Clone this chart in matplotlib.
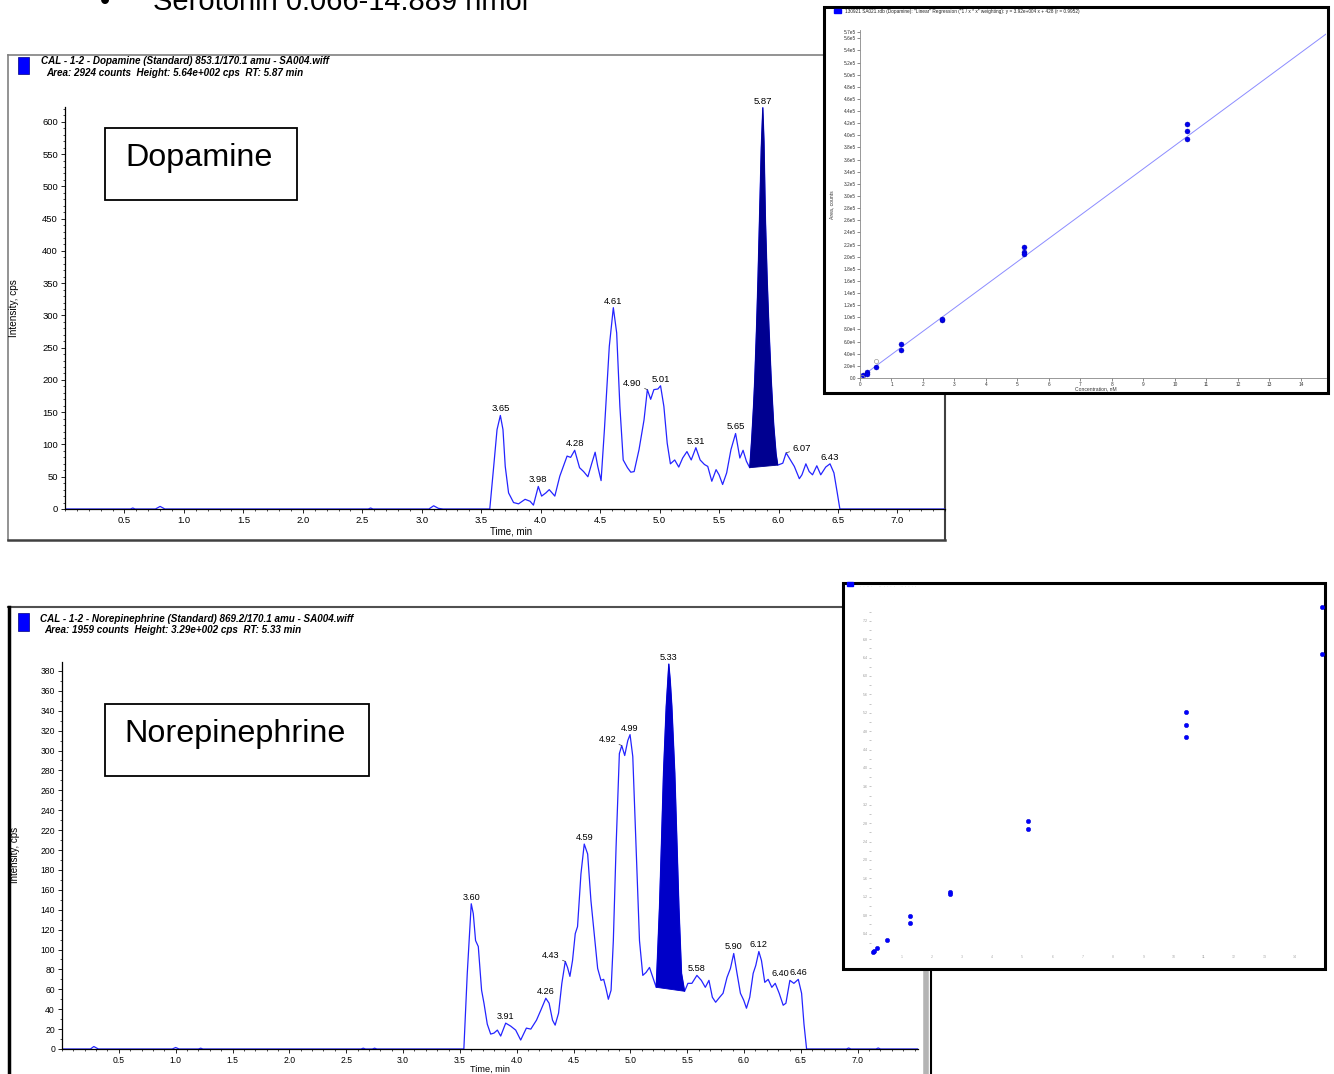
import numpy as np
import matplotlib
matplotlib.use('Agg')
import matplotlib.pyplot as plt
from matplotlib.patches import Rectangle
from matplotlib.ticker import MultipleLocator, FixedLocator, FormatStrFormatter

plt.rcParams['font.family'] = ['Liberation Sans', 'DejaVu Sans']

W, H = 1334, 1074

# ---------------- Dopamine chromatogram (time, min / intensity, cps)
da_base_t = [0.00, 0.55, 0.57, 0.59, 0.76, 0.80, 0.84, 2.55, 2.57, 2.59, 3.06, 3.10, 3.14, 3.18,
             3.572, 3.605, 3.633, 3.661, 3.683, 3.702, 3.730, 3.772, 3.814, 3.869,
             3.911, 3.939, 3.980, 4.008, 4.044, 4.072, 4.119, 4.161, 4.222, 4.252,
             4.286, 4.327, 4.361, 4.397, 4.430, 4.458, 4.480, 4.508, 4.536, 4.577,
             4.611, 4.639, 4.666, 4.694, 4.730, 4.758, 4.786, 4.827, 4.869, 4.897,
             4.925, 4.952, 4.986, 5.008, 5.036, 5.064, 5.091, 5.127, 5.161, 5.194,
             5.230, 5.266, 5.305, 5.341, 5.377, 5.405, 5.439, 5.475, 5.500, 5.530,
             5.564, 5.600, 5.639, 5.675, 5.702, 5.730]
da_base_i = [0, 0, 1.5, 0, 0, 4, 0, 0, 1.5, 0, 0, 5, 1, 0,
             0, 66, 123, 145, 123, 66, 25, 10, 8, 15,
             12, 6, 35, 20, 25, 30, 20, 51, 82, 80,
             91, 64, 58, 50, 71, 88, 66, 44, 123, 252,
             312, 273, 159, 76, 64, 57, 58, 92, 138, 185,
             170, 185, 186, 191, 159, 102, 70, 76, 65, 79,
             89, 76, 95, 76, 69, 66, 43, 61, 53, 38,
             56, 92, 117, 79, 91, 74]
da_peak_t = [5.758, 5.775, 5.79, 5.80, 5.815, 5.827, 5.84, 5.855, 5.868, 5.878, 5.89,
             5.905, 5.92, 5.939, 5.96, 5.98, 5.994]
da_peak_i = [64, 110, 160, 200, 280, 355, 450, 560, 622, 570, 450, 355, 280, 200, 130, 85, 68]
da_tail_t = [6.036, 6.064, 6.100, 6.133, 6.175, 6.197, 6.230, 6.258, 6.286, 6.322, 6.355,
             6.397, 6.433, 6.466, 6.494, 6.516, 7.40]
da_tail_i = [71, 87, 76, 66, 47, 53, 70, 58, 53, 67, 53, 65, 70, 56, 25, 0, 0]

da_labels = ['3.65', '3.98', '4.28', '4.61', '4.90', '5.01', '5.31', '5.65', '5.87', '6.07', '6.43']
da_label_t = [3.661, 3.980, 4.286, 4.611, 4.897, 5.008, 5.305, 5.639, 5.868, 6.064, 6.433]
da_label_i = [145, 35, 91, 312, 185, 191, 95, 117, 622, 87, 70]
da_label_kind = ['c', 'c', 'c', 'c', 'l', 'c', 'c', 'c', 'c', 'r', 'c']

# ---------------- Norepinephrine chromatogram
ne_base_t = [0.00, 0.25, 0.28, 0.32, 0.97, 1.00, 1.03, 1.20, 1.22, 1.24, 2.63, 2.65, 2.67,
             2.73, 2.75, 2.77, 3.535,
             3.565, 3.600, 3.618, 3.638, 3.662, 3.691, 3.712, 3.741, 3.771, 3.800,
             3.830, 3.859, 3.903, 3.947, 3.991, 4.035, 4.085, 4.124, 4.174, 4.212,
             4.256, 4.285, 4.315, 4.338, 4.368, 4.397, 4.427, 4.447, 4.468, 4.491,
             4.515, 4.535, 4.565, 4.594, 4.624, 4.653, 4.682, 4.712, 4.741, 4.765,
             4.785, 4.806, 4.830, 4.850, 4.874, 4.903, 4.924, 4.950, 4.977, 4.997,
             5.021, 5.050, 5.080, 5.109, 5.138, 5.168, 5.197]
ne_base_i = [0, 0, 2.5, 0, 0, 1.5, 0, 0, 0.8, 0, 0, 0.8, 0, 0, 0.8, 0, 0,
             76, 146, 136, 109, 103, 59, 46, 25, 15, 16,
             19, 13, 26, 23, 19, 9, 21, 20, 29, 39,
             51, 46, 29, 24, 36, 66, 88, 82, 73, 89,
             116, 123, 176, 206, 196, 149, 116, 81, 69, 70,
             61, 50, 59, 109, 203, 297, 305, 295, 310, 316,
             294, 203, 109, 74, 77, 82, 72]
ne_peak_t = [5.227, 5.241, 5.256, 5.274, 5.291, 5.315, 5.338, 5.351, 5.365, 5.378, 5.391,
             5.409, 5.427, 5.450, 5.477]
ne_peak_i = [62, 100, 143, 210, 277, 344, 387, 370, 344, 310, 277, 210, 143, 76, 58]
ne_tail_t = [5.506, 5.541, 5.585, 5.624, 5.659, 5.691, 5.721, 5.750, 5.785, 5.815,
             5.850, 5.880, 5.909, 5.938, 5.968, 5.997, 6.021, 6.050, 6.080, 6.103,
             6.130, 6.153, 6.182, 6.212, 6.244, 6.274, 6.309, 6.344, 6.368, 6.403,
             6.438, 6.477, 6.506, 6.527, 6.550, 6.90, 6.92, 6.94, 7.16, 7.18, 7.20, 7.53]
ne_tail_i = [66, 66, 74, 69, 62, 69, 52, 47, 52, 56,
             72, 81, 96, 76, 56, 49, 41, 52, 76, 84,
             98, 89, 67, 70, 62, 66, 56, 44, 46, 69,
             66, 70, 56, 25, 0, 0, 1, 0, 0, 1, 0, 0]

ne_labels = ['3.60', '3.91', '4.26', '4.43', '4.59', '4.92', '4.99', '5.33', '5.58', '5.90',
             '6.12', '6.40', '6.46']
ne_label_t = [3.600, 3.903, 4.256, 4.427, 4.594, 4.924, 4.997, 5.338, 5.585, 5.909, 6.130,
              6.403, 6.477]
ne_label_i = [146, 26, 51, 88, 206, 305, 316, 387, 74, 96, 98, 69, 70]
ne_label_kind = ['c', 'c', 'c', 'l', 'c', 'l', 'c', 'c', 'c', 'c', 'c', 'rr', 'c']

# ---------------- calibration curves (concentration, nM / area, counts)
da_conc = [0.104, 0.208, 0.208, 0.52, 1.3, 1.3, 2.6, 2.6, 5.2, 5.2, 5.2, 10.4, 10.4, 10.4]
da_area = [4.4e3, 9.9e3, 6.6e3, 1.82e4, 5.62e4, 4.57e4, 9.6e4, 9.8e4,
           2.16e5, 2.07e5, 2.04e5, 4.18e5, 4.07e5, 3.94e5]
da_excl_conc = [0.052, 0.52]
da_excl_area = [2.0e3, 2.75e4]
da_fit_x = [0.0, 14.8]
da_fit_y = [428, 5.67e5]

ne_conc = [0.052, 0.104, 0.208, 0.52, 1.3, 1.3, 2.6, 2.6, 5.2, 5.2, 10.4, 10.4, 10.4, 14.9, 14.9]
ne_area = [1e3, 3e3, 8e3, 2.6e4, 7.8e4, 6.4e4, 1.30e5, 1.26e5, 2.85e5, 2.67e5,
           5.22e5, 4.93e5, 4.68e5, 7.49e5, 6.48e5]

fig = plt.figure(figsize=(W / 100, H / 100), dpi=100)


def box_axes(x0, y0, x1, y1, z):
    ax = fig.add_axes([x0 / W, 1 - y1 / H, (x1 - x0) / W, (y1 - y0) / H], zorder=z)
    ax.set_xlim(x0, x1)
    ax.set_ylim(y1, y0)
    ax.axis('off')
    return ax


bg = box_axes(0, 0, W, H, 0)
bg.text(100, 10, '•', fontsize=21, va='baseline')
bg.text(153, 10, 'Serotonin 0.066-14.889 nmol', fontsize=21, va='baseline')

# panel frames
bg.plot([8, 945], [55, 55], color='#808080', lw=1.2)
bg.plot([8, 8], [55, 540], color='#808080', lw=1.2)
bg.plot([8, 945], [540, 540], color='#404040', lw=1.8)
bg.plot([945, 945], [55, 540], color='#404040', lw=1.5)
bg.plot([8, 930], [607, 607], color='#505050', lw=1.5)
bg.plot([9, 9], [607, 1074], color='black', lw=2.5)
bg.plot([926, 926], [607, 1074], color='#b4b4b4', lw=4)
bg.plot([931, 931], [607, 1074], color='black', lw=1.5)

hdr = dict(fontsize=7.1, fontweight='bold', fontstyle='italic', va='center')
bg.add_patch(Rectangle((18, 57), 11, 17, facecolor='#0000ff', edgecolor='#000080', lw=0.5))
bg.text(41, 61, 'CAL - 1-2 - Dopamine (Standard) 853.1/170.1 amu - SA004.wiff', **hdr)
bg.text(46, 73, 'Area: 2924 counts  Height: 5.64e+002 cps  RT: 5.87 min', **hdr)
bg.add_patch(Rectangle((18, 613), 11, 18, facecolor='#0000ff', edgecolor='#000080', lw=0.5))
bg.text(40, 619, 'CAL - 1-2 - Norepinephrine (Standard) 869.2/170.1 amu - SA004.wiff', **hdr)
bg.text(44, 630, 'Area: 1959 counts  Height: 3.29e+002 cps  RT: 5.33 min', **hdr)

bg.add_patch(Rectangle((105, 128), 192, 72, fill=False, ec='black', lw=1.3))
bg.text(199, 158, 'Dopamine', fontsize=23.3, ha='center', va='center')
bg.add_patch(Rectangle((105, 704), 264, 72, fill=False, ec='black', lw=1.3))
bg.text(235, 734, 'Norepinephrine', fontsize=23.3, ha='center', va='center')

bg.text(14, 308, 'Intensity, cps', rotation=90, fontsize=7.2, ha='center', va='center')
bg.text(511, 531, 'Time, min', fontsize=7, ha='center', va='center')
bg.text(15.5, 855, 'Intensity, cps', rotation=90, fontsize=7, ha='center', va='center')
bg.text(490, 1069, 'Time, min', fontsize=6.6, ha='center', va='center')


def chrom(x0, y0, x1, y1, xmax, ymax, ystep, fs):
    ax = fig.add_axes([x0 / W, 1 - y0 / H, (x1 - x0) / W, (y0 - y1) / H], zorder=1)
    ax.set_facecolor('none')
    ax.set_xlim(0, xmax)
    ax.set_ylim(0, ymax)
    for s in ['top', 'right']:
        ax.spines[s].set_visible(False)
    for s in ['left', 'bottom']:
        ax.spines[s].set_linewidth(0.9)
    ax.xaxis.set_major_locator(FixedLocator(np.arange(0.5, 7.01, 0.5)))
    ax.xaxis.set_major_formatter(FormatStrFormatter('%.1f'))
    ax.xaxis.set_minor_locator(MultipleLocator(0.1))
    ax.yaxis.set_major_locator(MultipleLocator(ystep))
    ax.yaxis.set_major_formatter(FormatStrFormatter('%d'))
    ax.yaxis.set_minor_locator(MultipleLocator(10))
    ax.tick_params(which='major', length=3, width=0.6, labelsize=fs, pad=2)
    ax.tick_params(which='minor', length=1.5, width=0.5)
    return ax


def draw_trace(ax, bt, bi, pt, pi, tt, ti, fillc, labs, lt, li, kinds, fs):
    t = bt + pt + tt
    i = bi + pi + ti
    ax.plot(t, i, color='#2424ff', lw=0.9, zorder=2)
    ax.fill(pt, pi, color=fillc, lw=0.6, ec=fillc, zorder=2.2)
    for lab, x, y, k in zip(labs, lt, li, kinds):
        if k == 'c':
            ax.annotate(lab, (x, y), xytext=(0, 1.5), textcoords='offset points',
                        ha='center', va='bottom', fontsize=fs)
        elif k == 'l':
            ax.annotate(lab, (x, y), xytext=(-4, 4.5), textcoords='offset points',
                        ha='right', va='center', fontsize=fs,
                        arrowprops=dict(arrowstyle='-', lw=0.5, color='#333333',
                                        shrinkA=0, shrinkB=0))
        elif k == 'r':
            ax.annotate(lab, (x, y), xytext=(4.5, 3.5), textcoords='offset points',
                        ha='left', va='center', fontsize=fs,
                        arrowprops=dict(arrowstyle='-', lw=0.5, color='#333333',
                                        shrinkA=0, shrinkB=0))
        else:
            ax.annotate(lab, (x, y), xytext=(-0.5, 1.5), textcoords='offset points',
                        ha='right', va='bottom', fontsize=fs)


ax1 = chrom(65, 509, 945, 107, 7.40, 623, 50, 6.8)
draw_trace(ax1, da_base_t, da_base_i, da_peak_t, da_peak_i, da_tail_t, da_tail_i,
           '#000090', da_labels, da_label_t, da_label_i, da_label_kind, 6.8)

ax2 = chrom(62, 1049, 918, 662, 7.53, 389, 20, 6.2)
draw_trace(ax2, ne_base_t, ne_base_i, ne_peak_t, ne_peak_i, ne_tail_t, ne_tail_i,
           '#0000c8', ne_labels, ne_label_t, ne_label_i, ne_label_kind, 6.6)

# ---------------- dopamine calibration inset
fr1 = box_axes(824, 7, 1328, 393, 3)
fr1.add_patch(Rectangle((824, 7), 504, 386, facecolor='white', edgecolor='black', lw=2.2,
                        clip_on=False))
fr1.add_patch(Rectangle((834, 9), 7, 4, color='#0000ff'))
fr1.text(845, 12, '130921 SA021.rdb (Dopamine): "Linear" Regression ("1 / x * x" weighting): '
         'y = 3.92e+004 x + 428 (r = 0.9952)', fontsize=3.4, va='center', color='#222222')
fr1.text(832, 205, 'Area, counts', rotation=90, fontsize=3.6, ha='center', va='center',
         color='#333333')
fr1.text(1096, 389, 'Concentration, nM', fontsize=3.6, ha='center', va='center',
         color='#333333')

ia = fig.add_axes([860 / W, 1 - 378 / H, 466 / W, 348 / H], zorder=4)
ia.set_facecolor('none')
ia.set_xlim(0, 14.8)
ia.set_ylim(0, 5.737e5)
for s in ['top', 'right']:
    ia.spines[s].set_visible(False)
for s in ['left', 'bottom']:
    ia.spines[s].set_color('#888888')
    ia.spines[s].set_linewidth(0.6)
yt = list(np.arange(0, 5.61e5, 2e4)) + [5.7e5]
ylabs = []
for v in yt:
    if v == 0:
        ylabs.append('0.0')
    elif v < 1e5:
        ylabs.append('%.1fe4' % (v / 1e4))
    else:
        ylabs.append('%.1fe5' % (v / 1e5))
ia.set_yticks(yt)
ia.set_yticklabels(ylabs)
ia.set_xticks(range(0, 15))
ia.tick_params(labelsize=3.4, length=2, width=0.4, pad=1, colors='#333333')
ia.plot(da_fit_x, da_fit_y, color='#8c8cff', lw=0.7)
ia.plot(da_conc, da_area, 'o', ms=3.6, mfc='#0000ee', mec='#0000aa', mew=0.3, clip_on=False)
ia.plot(da_excl_conc, da_excl_area, 'o', ms=3, mfc='none', mec='#999999', mew=0.5)

# ---------------- second calibration inset (faded)
fr2 = box_axes(843, 583, 1325, 969, 3)
fr2.add_patch(Rectangle((843, 583), 482, 386, facecolor='white', edgecolor='black', lw=2.2,
                        clip_on=False))
fr2.add_patch(Rectangle((847, 582), 6, 4, color='#0000ff', clip_on=False))
fr2.text(860, 586, '.  .  ..  .      ..  .  .  .  .     ..  .  .  .  .', fontsize=3,
         va='center', color='#aaaaaa')

ib = fig.add_axes([871 / W, 1 - 952 / H, 454 / W, 369 / H], zorder=4)
ib.set_facecolor('none')
ib.set_xlim(0, 15.0)
ib.set_ylim(0, 8.02e5)
for s in ib.spines.values():
    s.set_visible(False)
ybt = np.arange(2e4, 7.5e5, 2e4)
ib.set_yticks(ybt)
ib.set_yticklabels(['%.1f' % (v / 1e5) if k % 2 == 1 else '' for k, v in enumerate(ybt)])
ib.set_xticks(range(1, 15))
ib.tick_params(axis='y', labelsize=2.6, length=1.5, width=0.4, pad=1, colors='#999999')
ib.tick_params(axis='x', labelsize=2.6, length=0, pad=2, colors='#aaaaaa')
ib.plot(ne_conc, ne_area, 'o', ms=3.2, mfc='#0000ff', mec='#0000cc', mew=0.3, clip_on=False)

fig.savefig('out.png', dpi=100)
